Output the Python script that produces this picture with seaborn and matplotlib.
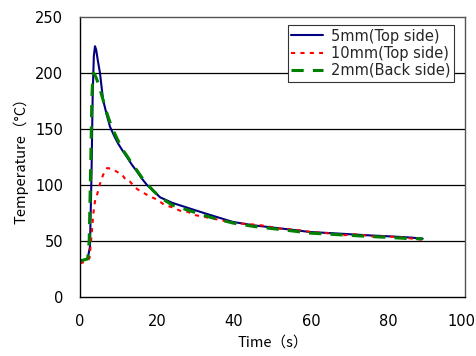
import numpy as np
import pandas as pd
import seaborn as sns
import matplotlib
matplotlib.use("Agg")
import matplotlib.pyplot as plt
import matplotlib.transforms as mtransforms

# 5mm (Top side)
t_5 = [0, 1, 2, 2.6, 3.0, 3.3, 3.6, 3.9, 4.2, 4.6, 5.2, 6.0, 7.0, 7.8, 9.0, 9.9, 11, 12.2, 13.5, 14.8, 16, 17.4, 19, 20.8, 24, 29.4, 34, 39.7, 45, 50, 55, 59.7, 65, 70, 75, 81, 86, 89]
T_5 = [32, 33, 34, 45, 110, 180, 215, 224, 221, 212, 200, 176, 162, 152, 143, 137, 131, 125, 118, 112, 106, 100, 95, 89, 84, 78, 73, 67, 64, 62, 60, 58, 57, 56, 55, 54, 53, 52]

# 10mm (Top side)
t_10 = [0, 1, 2, 2.5, 3.0, 3.5, 4.0, 4.5, 5.0, 5.5, 6.0, 6.5, 7.0, 7.5, 8.0, 9.0, 10, 11, 12, 13, 14, 15, 16, 17, 18, 20, 22, 24, 26, 28, 30,
        33, 36, 40, 44, 47, 52, 56, 60, 64, 68, 72, 76, 80, 84, 89]
T_10 = [30, 31, 32, 35, 55, 75, 88, 92, 99, 104, 109, 112, 115, 115, 114, 113, 111, 109, 104, 103, 99, 96, 94, 92, 90, 87, 82, 80, 77, 76, 73,
        71, 69, 66, 65, 64, 61, 60, 58, 57, 55, 56, 54, 54, 53, 51]

# 2mm (Back side)
t_2 = [0, 1, 2, 2.4, 2.8, 3.1, 3.4, 3.8, 4.3, 5.0, 6.0, 7.0, 8.0, 9.0, 10, 11, 12.2, 13.5, 14.8, 16, 17.4, 19, 20.8, 24, 29.4, 34, 39.7, 45, 50, 55, 59.7, 65, 70, 75, 81, 86, 89]
T_2 = [32, 33, 34, 50, 120, 180, 200, 199, 195, 188, 176, 164, 154, 146, 139, 132, 126, 119, 113, 107, 101, 95, 89, 82, 76, 71, 66, 63, 61, 59, 57, 56, 55, 54, 53, 52, 52]

labels = ["5mm(Top side)", "10mm(Top side)", "2mm(Back side)"]

sns.set_theme(style="white")
plt.rcParams['font.family'] = ['DejaVu Sans', 'Noto Sans CJK JP']

fig = plt.figure(figsize=(4.76, 3.56), dpi=100)
ax = fig.add_axes([0.168, 0.166, 0.809, 0.786])

for y in [50, 100, 150, 200]:
    ax.axhline(y, color='black', lw=0.9, zorder=0)

sns.lineplot(x=t_5, y=T_5, ax=ax, color='#000080', lw=1.5, label=labels[0], sort=False)
sns.lineplot(x=t_10, y=T_10, ax=ax, color='#ff0000', lw=1.5, label=labels[1], sort=False)
sns.lineplot(x=t_2, y=T_2, ax=ax, color='#008000', lw=2.2, label=labels[2], sort=False)
ax.lines[-2].set_linestyle((0, (2, 2.5)))
ax.lines[-1].set_linestyle((0, (4, 3)))

ax.set_xlim(0, 100)
ax.set_ylim(0, 250)
ax.set_xticks([0, 20, 40, 60, 80, 100])
ax.set_yticks([0, 50, 100, 150, 200, 250])
ax.tick_params(axis='both', direction='in', length=4, width=0.8, colors='black', labelsize=10.5)
ax.tick_params(axis='x', pad=12)
ax.tick_params(axis='y', pad=12)
ax.set_xlabel("Time（s）", fontsize=10.5, labelpad=5, color='black', family=['Noto Sans CJK JP', 'DejaVu Sans'])
ax.set_ylabel("Temperature（°C）", fontsize=10.5, labelpad=5, color='black', family=['Noto Sans CJK JP', 'DejaVu Sans'])
fig.canvas.draw()
lab = ax.get_xticklabels()[-1]
lab.set_transform(lab.get_transform() + mtransforms.ScaledTranslation(-4 / 100, 0, fig.dpi_scale_trans))

for s in ['left', 'bottom']:
    ax.spines[s].set_color('black')
    ax.spines[s].set_linewidth(1.0)
for s in ['top', 'right']:
    ax.spines[s].set_color('#555555')
    ax.spines[s].set_linewidth(1.0)

leg = ax.legend(loc='upper right', fontsize=10.5, frameon=True, fancybox=False,
                borderpad=0.25, labelspacing=0.15, handlelength=2.2, handletextpad=0.5,
                bbox_to_anchor=(0.99, 0.998))
leg.get_frame().set_edgecolor('#333333')
leg.get_frame().set_linewidth(0.8)
leg.get_frame().set_facecolor('white')
leg.get_frame().set_alpha(1)

fig.savefig("out.png", dpi=100)
